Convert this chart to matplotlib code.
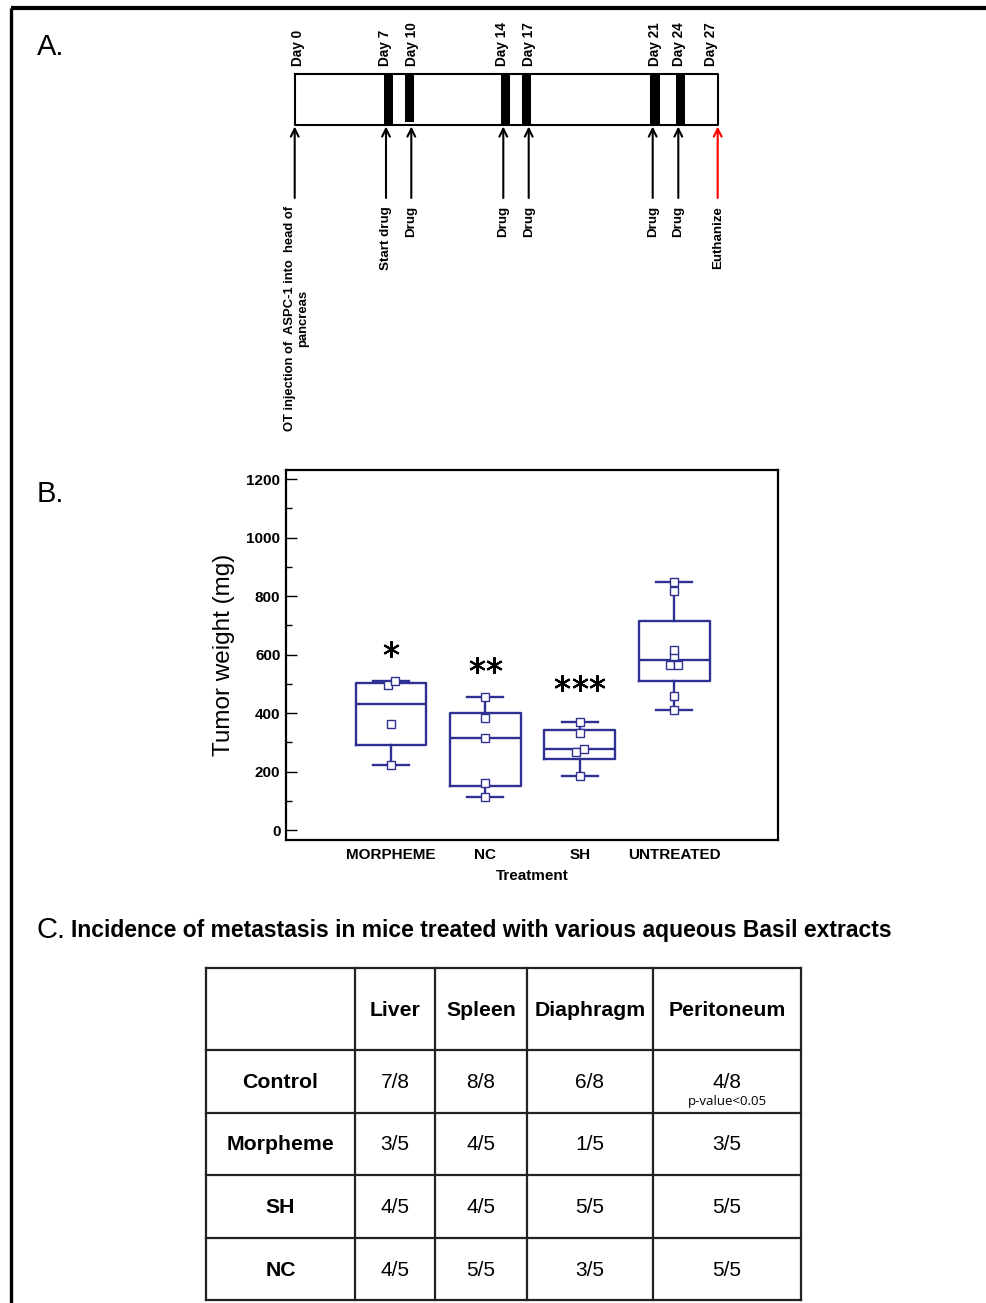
import matplotlib
matplotlib.use('Agg')
import matplotlib.pyplot as plt
from matplotlib import transforms

plt.rcParams['font.family'] = ['Liberation Sans', 'DejaVu Sans']

# ---- A. treatment schedule ----
days = ['Day 0', 'Day 7', 'Day 10', 'Day 14', 'Day 17', 'Day 21', 'Day 24', 'Day 27']
events = ['OT injection of  ASPC-1 into  head of\npancreas', 'Start drug', 'Drug', 'Drug',
          'Drug', 'Drug', 'Drug', 'Euthanize']
dosed = [False, True, True, True, True, True, True, False]

# ---- B. tumour weight (mg) ----
groups = ['MORPHEME', 'NC', 'SH', 'UNTREATED']
q1 = [292, 150, 244, 509]
med = [432, 315, 276, 580]
q3 = [502, 399, 341, 716]
whislo = [224, 112, 184, 412]
whishi = [509, 454, 370, 848]
points = [[224, 364, 497, 509],
          [112, 162, 315, 382, 454],
          [184, 266, 278, 333, 370],
          [412, 458, 563, 563, 595, 616, 819, 848]]
stars = [1, 2, 3]
star_y = [618, 563, 502]

# ---- C. metastasis table ----
organs = ['Liver', 'Spleen', 'Diaphragm', 'Peritoneum']
treatments = ['Control', 'Morpheme', 'SH', 'NC']
incidence = [['7/8', '8/8', '6/8', '4/8'],
             ['3/5', '4/5', '1/5', '3/5'],
             ['4/5', '4/5', '5/5', '5/5'],
             ['4/5', '5/5', '3/5', '5/5']]
note = 'p-value<0.05'

# layout (pixels of the 987x1303 canvas)
W, H = 987, 1303
arrow_x = [294.7, 386, 411.3, 503.3, 528.7, 652.7, 678.3, 717.7]
label_x = [298, 385, 412, 502, 529, 655, 679, 711]
bar_x = [388.7, 409.3, 505.6, 526.3, 655, 680.6]
col_edges = [206, 355, 435, 527, 653, 801]
row_edges = [968, 1050, 1113, 1175, 1238, 1300]
dx = [[0, 0, -0.036, 0.045], [0] * 5, [0, -0.04, 0.045, 0, 0],
      [0, 0, -0.04, 0.045, 0, 0, 0, 0]]
blue = '#2e3192'

fig = plt.figure(figsize=(W / 100, H / 100), dpi=100)
ax0 = fig.add_axes([0, 0, 1, 1])
ax0.set_xlim(0, W)
ax0.set_ylim(H, 0)
ax0.axis('off')

# outer frame
ax0.plot([11, W], [8, 8], color='black', lw=3, solid_capstyle='butt')
ax0.plot([11, 11], [8, H], color='black', lw=2.4, solid_capstyle='butt')

for lab, y in [('A.', 47), ('B.', 494), ('C.', 930)]:
    ax0.text(37, y, lab, fontsize=21, va='center', ha='left')

# timeline box
ax0.plot([294.7, 717.7, 717.7, 294.7, 294.7], [74.3, 74.3, 125.3, 125.3, 74.3],
         color='black', lw=1.5)
bx = iter(bar_x)
for i, d in enumerate(dosed):
    if d:
        x = next(bx)
        bottom = 122 if i == 2 else 123.5
        ax0.fill_between([x - 4.65, x + 4.65], 74.3, bottom, color='black', lw=0)
for i, (x, d, e) in enumerate(zip(arrow_x, days, events)):
    c = 'red' if i == len(days) - 1 else 'black'
    ax0.annotate('', xy=(x, 126.5), xytext=(x, 198),
                 arrowprops=dict(arrowstyle='->', color=c, lw=1.5,
                                 mutation_scale=14, shrinkA=0, shrinkB=0))
    ax0.text(label_x[i], 66, d, rotation=90, ha='center', va='bottom',
             fontsize=9.8, fontweight='bold')
    ax0.text(x + (1.5 if i == 0 else 0), 206, e, rotation=90, ha='center', va='top',
             fontsize=9.4 if i == 0 else 9.6, fontweight='bold',
             multialignment='center', linespacing=1.15)

# ---- B. box plot ----
ax = fig.add_axes([286 / W, 1 - 840 / H, 492 / W, 370 / H])
stats = [dict(med=m, q1=a, q3=b, whislo=lo, whishi=hi, fliers=[], label=g)
         for g, m, a, b, lo, hi in zip(groups, med, q1, q3, whislo, whishi)]
pos = list(range(1, len(groups) + 1))
ln = dict(color=blue, lw=1.7)
ax.bxp(stats, positions=pos, widths=0.75, capwidths=0.38, showfliers=False,
       boxprops=ln, whiskerprops=ln, capprops=ln, medianprops=ln)
for p, vals, off in zip(pos, points, dx):
    ax.plot([p + o for o in off], vals, 's', ms=5.5, mfc='white', mec=blue,
            mew=1.0, zorder=5, linestyle='none')
for p, n, y in zip(pos, stars, star_y):
    for k in range(n):
        tr = transforms.offset_copy(ax.transData, fig=fig,
                                    x=(k - (n - 1) / 2) * 12.5, y=0, units='points')
        ax.plot(p, y, marker=(6, 2, 0), ms=12, mew=1.5, color='black',
                transform=tr, linestyle='none')
ax.set_xlim(-0.113, 5.10)
ax.set_ylim(-34, 1231)
ax.set_yticks(range(0, 1201, 200))
ax.set_yticks(range(100, 1200, 200), minor=True)
ax.set_xticks(pos)
ax.set_xticklabels(groups, fontsize=11, fontweight='bold')
ax.tick_params(axis='y', direction='in', length=7.7, width=1.0, pad=4,
               labelsize=11)
ax.tick_params(axis='y', which='minor', direction='in', length=4, width=1.0)
for lab in ax.get_yticklabels():
    lab.set_fontweight('bold')
ax.tick_params(axis='x', length=0, pad=6)
ax.set_xlabel('Treatment', fontsize=11, fontweight='bold', labelpad=5)
ax.set_ylabel('Tumor weight (mg)', fontsize=17.5, labelpad=8)
for s in ax.spines.values():
    s.set_linewidth(1.6)

# ---- C. table ----
ax0.text(71, 931, 'Incidence of metastasis in mice treated with various aqueous Basil extracts',
         fontsize=16.5, fontweight='bold', va='center', ha='left')
for y in row_edges:
    ax0.plot([col_edges[0], col_edges[-1]], [y, y], color='#222222', lw=1.6,
             solid_capstyle='projecting')
for x in col_edges:
    ax0.plot([x, x], [row_edges[0], row_edges[-1]], color='#222222', lw=1.6,
             solid_capstyle='projecting')
cx = [(a + b) / 2 for a, b in zip(col_edges[:-1], col_edges[1:])]
cy = [(a + b) / 2 for a, b in zip(row_edges[:-1], row_edges[1:])]
for j, o in enumerate(organs):
    ax0.text(cx[j + 1], cy[0] + 1, o, fontsize=15.3, fontweight='bold',
             ha='center', va='center')
for i, t in enumerate(treatments):
    ax0.text(cx[0], cy[i + 1] + 1, t, fontsize=15.3, fontweight='bold',
             ha='center', va='center')
    for j, v in enumerate(incidence[i]):
        y = 1082 if (i, j) == (0, 3) else cy[i + 1] + 1
        ax0.text(cx[j + 1], y, v, fontsize=15, ha='center', va='center')
ax0.text(cx[4], 1101, note, fontsize=9.5, ha='center', va='center',
         family=['Open Sans', 'DejaVu Sans'])

fig.savefig('out.png', dpi=100)
